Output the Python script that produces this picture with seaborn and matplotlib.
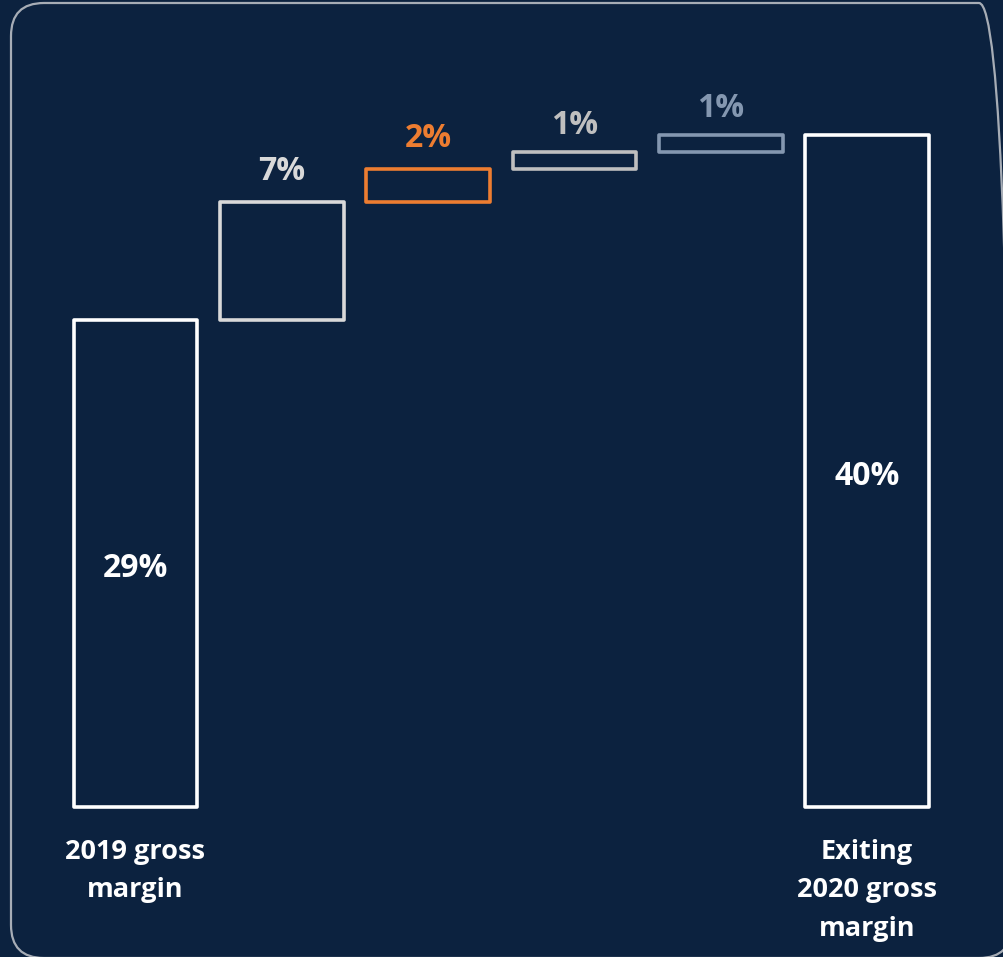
import matplotlib
matplotlib.use("Agg")
import matplotlib.pyplot as plt
import seaborn as sns
import pandas as pd
from matplotlib.patches import FancyBboxPatch
from matplotlib.transforms import Affine2D

# ---- data ----
keys = ["start", "d1", "d2", "d3", "d4", "end"]
values = [29, 7, 2, 1, 1, 40]
is_total = [True, False, False, False, False, True]
tick_labels = ["2019 gross\nmargin", "", "", "", "", "Exiting\n2020 gross\nmargin"]
value_labels = ["29%", "7%", "2%", "1%", "1%", "40%"]
edge_colors = ["#FFFFFF", "#D9D9D9", "#ED7D31", "#BFBFBF", "#8497B0", "#FFFFFF"]
label_offsets_pt = [-4, 10, 10, 7, 7, -4]   # text offset styling

BG = "#0C223F"

# waterfall bottoms
bottoms = []
run = 0
for v, t in zip(values, is_total):
    if t:
        bottoms.append(0)
        run = v
    else:
        bottoms.append(run)
        run += v

df = pd.DataFrame({"key": keys, "value": values})

sns.set_theme(style="white")
plt.rcParams["font.family"] = ["Open Sans", "DejaVu Sans"]

W, H = 1004, 957
fig = plt.figure(figsize=(W / 100, H / 100), dpi=100, facecolor=BG)
ax = fig.add_axes([0, (H - 807) / H, 1, 807 / H])
ax.set_facecolor(BG)

sns.barplot(data=df, x="key", y="value", hue="key", palette=edge_colors,
            order=keys, hue_order=keys, fill=False, linewidth=2.6,
            width=0.845, legend=False, ax=ax)

patches = sorted(ax.patches, key=lambda p: p.get_x())
for p, b, c in zip(patches, bottoms, edge_colors):
    p.set_y(b)
    p.set_edgecolor(c)
    p.set_facecolor("none")
    p.set_joinstyle("round")
    p.set_clip_on(False)

px_per_unit = 146.3
ax.set_xlim(-135.5 / px_per_unit, (W - 135.5) / px_per_unit)
ax.set_ylim(0, 807 / 16.8)

for i, (v, b, t, lab, c, off) in enumerate(zip(values, bottoms, is_total, value_labels,
                                              edge_colors, label_offsets_pt)):
    if t:
        ax.annotate(lab, (i, b + v / 2), xytext=(0, off), textcoords="offset points",
                    ha="center", va="center", color="white",
                    fontsize=23, fontweight="bold")
    else:
        ax.annotate(lab, (i, b + v), xytext=(0, off), textcoords="offset points",
                    ha="center", va="bottom", color=c,
                    fontsize=23, fontweight="bold")

ax.set_xticks(range(len(keys)))
ax.set_xticklabels(tick_labels, color="white", fontsize=19.5, fontweight="bold",
                   linespacing=1.62, va="top")
ax.tick_params(axis="x", length=0, pad=23)
ax.set_yticks([])
ax.set_xlabel("")
ax.set_ylabel("")
for s in ax.spines.values():
    s.set_visible(False)

# rounded border in pixel coordinates (bottom-up)
to_px = Affine2D().scale(1 / W, 1 / H) + fig.transFigure
r = 33
x0, x1 = 11, 1012
y0, y1 = -1, H - 3
border = FancyBboxPatch((x0 + r, y0 + r), (x1 - x0) - 2 * r, (y1 - y0) - 2 * r,
                        boxstyle=f"round,pad={r}", transform=to_px,
                        facecolor="none", edgecolor="#A7ADB6", linewidth=1.6,
                        zorder=10)
fig.patches.append(border)

fig.savefig("out.png", dpi=100, facecolor=BG)
